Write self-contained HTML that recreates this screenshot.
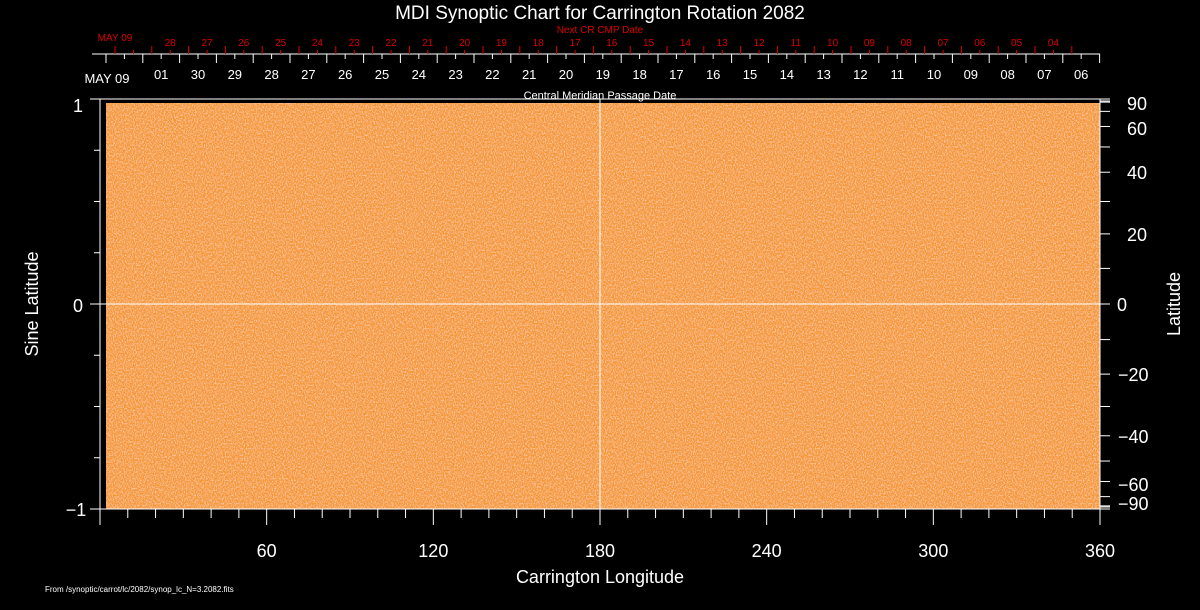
<!DOCTYPE html>
<html><head><meta charset="utf-8"><style>
html,body{margin:0;padding:0;background:#000;width:1200px;height:610px;overflow:hidden}
svg{display:block;font-family:"Liberation Sans","DejaVu Sans",sans-serif}
</style></head><body>
<svg id="s" width="1200" height="610" xmlns="http://www.w3.org/2000/svg">
<defs>
<filter id="n" x="0" y="0" width="100%" height="100%">
<feTurbulence type="fractalNoise" baseFrequency="0.9 0.6" numOctaves="2" seed="3" result="t"/>
<feColorMatrix in="t" type="matrix" values="0 0 0 0 1  0 0 0 0 0.82  0 0 0 0 0.6  0 0 0 1.5 -0.62" result="c"/>
<feComposite in="c" in2="SourceGraphic" operator="over"/>
</filter>
</defs>
<rect x="106" y="103" width="994" height="406" fill="#f59633" filter="url(#n)"/>
<g id="g" stroke="#fff" fill="none" stroke-width="1"></g>
<g id="t" fill="#fff"></g>
</svg>
<script>
var g=document.getElementById('g'),t=document.getElementById('t'),NS='http://www.w3.org/2000/svg';
function L(x1,y1,x2,y2,c){var e=document.createElementNS(NS,'line');e.setAttribute('x1',x1);e.setAttribute('y1',y1);e.setAttribute('x2',x2);e.setAttribute('y2',y2);if(c)e.setAttribute('stroke',c);g.appendChild(e);}
function T(x,y,s,sz,c,a,rot){var e=document.createElementNS(NS,'text');e.setAttribute('x',x);e.setAttribute('y',y);e.setAttribute('font-size',sz);e.setAttribute('text-anchor',a||'middle');if(c)e.setAttribute('fill',c);if(rot)e.setAttribute('transform','rotate(-90 '+x+' '+y+')');e.textContent=s;t.appendChild(e);}
L(100,99,100,509);L(92,99,1100,99);L(1100,99,1100,509);L(92,509,1100,509);
L(600,99,600,509);L(100,304,1100,304);
[-1,-.75,-.5,-.25,0,.25,.5,.75,1].forEach(function(v){var y=304-v*205;var m=(v%1==0);L(100,y,m?90:94,y);});
T(78,112,'1',18);T(78,312,'0',18);T(76,516,'\u22121',18);
for(var d=0;d<=360;d+=10){var x=100+d*1000/360;L(x,509,x,d%60==0?525:518);}
[60,120,180,240,300,360].forEach(function(d){T(100+d*1000/360,557,d,18);});
for(var a=-90;a<=90;a+=10){var y=304-Math.sin(a*Math.PI/180)*205;L(1100,y,1110,y);}
L(1100,101,1110,101);L(1100,507,1110,507);
[[90,'90'],[60,'60'],[40,'40'],[20,'20'],[0,'0'],[-20,'\u221220'],[-40,'\u221240'],[-60,'\u221260'],[-90,'\u221290']].forEach(function(p){
 var y=304-Math.sin(p[0]*Math.PI/180)*205;if(p[0]==90)y=103;if(p[0]==60)y=128;if(p[0]==-60)y=484;if(p[0]==-90)y=503;
 T(p[0]<0?1118:(p[0]==0?1122:1127),y+7,p[1],18,null,p[0]==0?'middle':'start');});
L(92,54,1100,54);
var sp=36.8;
for(var i=0;i<=27;i++){var x=106+i*sp;L(x,54,x,63);if(i<27)L(x+sp/2,54,x+sp/2,59);}
var wl=['01','30','29','28','27','26','25','24','23','22','21','20','19','18','17','16','15','14','13','12','11','10','09','08','07','06'];
wl.forEach(function(s,i){T(106+(i+1.5)*sp,79,s,13);});
T(107,83,'MAY 09',13);
for(var i=0;i<=26;i++){var x=115+i*sp;L(x,54,x,46,'#d00');if(i<26)L(x+sp/2,54,x+sp/2,50,'#d00');}
var rl=['28','27','26','25','24','23','22','21','20','19','18','17','16','15','14','13','12','11','10','09','08','07','06','05','04'];
rl.forEach(function(s,i){T(115+(i+1.5)*sp,46,s,10,'#d00');});
T(115,41,'MAY 09',10,'#d00');
T(600,33,'Next CR CMP Date',10,'#d00');
T(600,19,'MDI Synoptic Chart for Carrington Rotation 2082',19);
T(600,99,'Central Meridian Passage Date',11);
T(600,583,'Carrington Longitude',18);
T(38,304,'Sine Latitude',18,null,'middle',1);
T(1180,304,'Latitude',18,null,'middle',1);
T(45,592,'From /synoptic/carrot/lc/2082/synop_lc_N=3.2082.fits',8,null,'start');
</script>
</body></html>
